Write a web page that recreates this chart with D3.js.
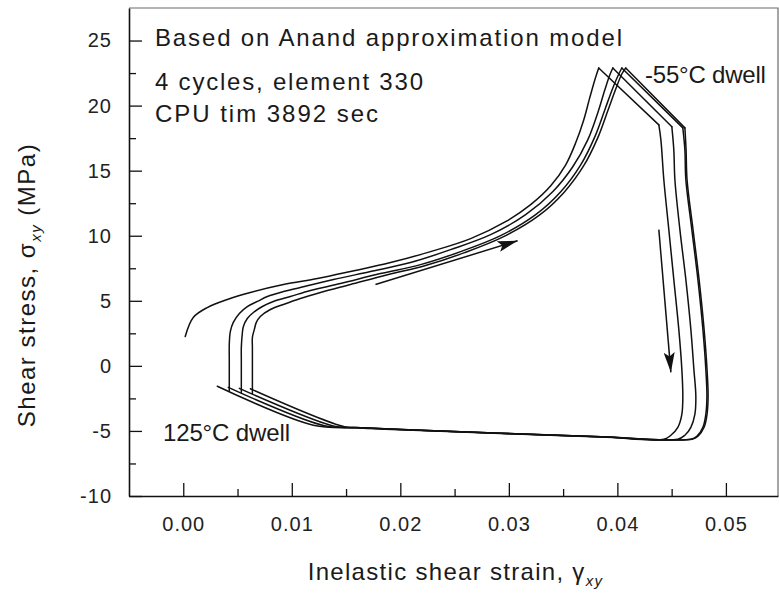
<!DOCTYPE html>
<html>
<head>
<meta charset="utf-8">
<script src="https://cdn.jsdelivr.net/npm/d3@7"></script>
<style>
  html, body { margin: 0; padding: 0; background: #fff; }
  svg { display: block; font-family: "Liberation Sans", Arial, Helvetica, sans-serif; }
</style>
</head>
<body>
<svg id="chart" width="779" height="599"></svg>
<script>
// Shear stress / inelastic shear strain hysteresis, 4 thermal cycles (element 330)
// Each cycle: loading branch -> -55°C dwell -> unloading -> 125°C dwell. [strain, stress MPa]
const cycle1 = [
  [0.00018, 2.26], [0.00092, 3.72], [0.00221, 4.48], [0.00406, 5.10], [0.00618, 5.64],
  [0.00923, 6.25], [0.01236, 6.71], [0.01541, 7.25], [0.01910, 7.94], [0.02279, 8.78],
  [0.02648, 9.78], [0.02970, 11.08], [0.03201, 12.39], [0.03386, 13.84], [0.03524, 15.45],
  [0.03616, 17.14], [0.03690, 18.90], [0.03745, 20.59], [0.03792, 21.97], [0.03828, 22.89],
  [0.04382, 18.52], [0.04401, 17.37], [0.04428, 14.30], [0.04474, 10.47], [0.04520, 6.63],
  [0.04566, 2.80], [0.04594, -0.27], [0.04603, -2.34], [0.04594, -3.72], [0.04557, -4.72],
  [0.04493, -5.33], [0.04428, -5.64], [0.03847, -5.45], [0.02924, -5.18], [0.02186, -4.95],
  [0.01633, -4.75], [0.01199, -4.56], [0.00314, -1.57]
];
const cycle2 = [
  [0.00424, -1.95], [0.00424, 0.50], [0.00424, 1.65], [0.00434, 2.65], [0.00461, 3.34],
  [0.00517, 4.03], [0.00590, 4.56], [0.00683, 4.95], [0.00775, 5.33], [0.00923, 5.71],
  [0.01079, 6.02], [0.01384, 6.63], [0.01725, 7.25], [0.02094, 7.94], [0.02463, 8.93],
  [0.02832, 10.08], [0.03155, 11.62], [0.03404, 13.38], [0.03589, 15.30], [0.03727, 17.37],
  [0.03819, 19.44], [0.03884, 21.20], [0.03930, 22.35], [0.03958, 22.89],
  [0.04502, 18.37], [0.04520, 16.60], [0.04530, 14.30], [0.04576, 10.47], [0.04631, 6.63],
  [0.04677, 2.80], [0.04705, -0.27], [0.04723, -2.34], [0.04714, -3.72], [0.04677, -4.72],
  [0.04622, -5.33], [0.04557, -5.64], [0.03847, -5.45], [0.02924, -5.18], [0.02186, -4.95],
  [0.01633, -4.75], [0.01301, -4.60], [0.00415, -1.65]
];
const cycle3 = [
  [0.00535, -2.05], [0.00535, 0.50], [0.00535, 1.42], [0.00544, 2.49], [0.00554, 3.03],
  [0.00590, 3.64], [0.00646, 4.10], [0.00729, 4.56], [0.00830, 4.95], [0.00987, 5.33],
  [0.01172, 5.79], [0.01448, 6.33], [0.01817, 7.09], [0.02186, 7.78], [0.02555, 8.78],
  [0.02924, 10.01], [0.03247, 11.62], [0.03478, 13.38], [0.03662, 15.45], [0.03792, 17.60],
  [0.03884, 19.67], [0.03958, 21.36], [0.04013, 22.43], [0.04041, 22.89],
  [0.04603, 18.29], [0.04622, 16.60], [0.04631, 14.30], [0.04686, 10.47], [0.04742, 6.63],
  [0.04788, 2.80], [0.04815, -0.27], [0.04825, -2.34], [0.04815, -3.72], [0.04788, -4.72],
  [0.04732, -5.41], [0.04677, -5.64], [0.03847, -5.45], [0.02924, -5.18], [0.02186, -4.95],
  [0.01633, -4.75], [0.01393, -4.64], [0.00517, -1.73]
];
const cycle4 = [
  [0.00637, -2.12], [0.00637, 0.50], [0.00637, 1.42], [0.00637, 2.19], [0.00655, 2.80],
  [0.00673, 3.34], [0.00710, 3.80], [0.00803, 4.33], [0.00923, 4.72], [0.01079, 5.18],
  [0.01264, 5.64], [0.01541, 6.25], [0.01891, 7.02], [0.02232, 7.71], [0.02592, 8.70],
  [0.02952, 9.93], [0.03275, 11.54], [0.03506, 13.31], [0.03690, 15.38], [0.03819, 17.52],
  [0.03911, 19.59], [0.03985, 21.28], [0.04041, 22.43], [0.04077, 22.89],
  [0.04622, 18.29], [0.04633, 16.60], [0.04642, 14.30], [0.04697, 10.47], [0.04753, 6.63],
  [0.04799, 2.80], [0.04826, -0.27], [0.04836, -2.34], [0.04826, -3.72], [0.04799, -4.72],
  [0.04743, -5.41], [0.04688, -5.64], [0.03847, -5.47], [0.02924, -5.20], [0.02186, -4.97],
  [0.01633, -4.77], [0.01485, -4.68], [0.00618, -1.76]
];
const cycles = [cycle1, cycle2, cycle3, cycle4];

// Direction arrows along the loop [from, to]
const loadArrow = [[0.01771, 6.25], [0.03081, 9.62]];
const unloadArrow = [[0.04382, 10.47], [0.04493, -0.50]];

const xTicks = [0.00, 0.01, 0.02, 0.03, 0.04, 0.05];
const xMinorTicks = [0.005, 0.015, 0.025, 0.035, 0.045];
const yTicks = [-10, -5, 0, 5, 10, 15, 20, 25];
const yMinorTicks = [-7.5, -2.5, 2.5, 7.5, 12.5, 17.5, 22.5];

const noteLines = ["Based on Anand approximation model", "4 cycles, element 330", "CPU tim 3892 sec"];
const coldDwell = { text: "-55°C dwell", at: [0.04254, 21.7] };
const hotDwell = { text: "125°C dwell", at: [-0.00187, -5.8] };

// ---- layout ----
const svg = d3.select("#chart");
const plotL = 129, plotR = 778, plotT = 8, plotB = 496;

const x = d3.scaleLinear().domain([-0.005, 0.0548]).range([plotL, plotR]);
const y = d3.scaleLinear().domain([-10, 27.5]).range([plotB, plotT]);

// frame: light top/right edges
svg.append("path")
  .attr("d", `M${plotL},${plotT}H${plotR}V${plotB}`)
  .attr("fill", "none").attr("stroke", "#6a6a6a").attr("stroke-width", 1.2);

// minor ticks
svg.append("g").attr("transform", `translate(${plotL},0)`)
  .call(d3.axisLeft(y).tickValues(yMinorTicks).tickSize(-7).tickFormat(""))
  .call(g => g.select(".domain").remove());
svg.append("g").attr("transform", `translate(0,${plotB})`)
  .call(d3.axisBottom(x).tickValues(xMinorTicks).tickSize(-7).tickFormat(""))
  .call(g => g.select(".domain").remove());

// major axes (plain hyphen for negative labels)
const yAxis = svg.append("g").attr("transform", `translate(${plotL},0)`)
  .call(d3.axisLeft(y).tickValues(yTicks).tickSizeInner(-13).tickSizeOuter(0).tickPadding(17).tickFormat(d => String(d)));
const xAxis = svg.append("g").attr("transform", `translate(0,${plotB})`)
  .call(d3.axisBottom(x).tickValues(xTicks).tickSizeInner(-13).tickSizeOuter(0).tickPadding(21).tickFormat(d => d.toFixed(2)));

svg.selectAll("g line").attr("stroke", "#111").attr("stroke-width", 1.3);
[yAxis, xAxis].forEach(g => {
  g.selectAll("text").attr("font-size", 20).attr("fill", "#222").attr("letter-spacing", 1)
    .attr("font-family", "'Liberation Sans', Arial, sans-serif");
  g.select(".domain").attr("stroke", "#111").attr("stroke-width", 1.6);
});

// loops: smooth each branch, keep sharp corners at the dwell transitions
function branches(pts) {
  const px = pts.map(d => [x(d[0]), y(d[1])]);
  const out = [];
  let cur = [pts[0]];
  for (let i = 1; i < pts.length; i++) {
    cur.push(pts[i]);
    if (i < pts.length - 1) {
      const a1 = Math.atan2(px[i][1] - px[i - 1][1], px[i][0] - px[i - 1][0]);
      const a2 = Math.atan2(px[i + 1][1] - px[i][1], px[i + 1][0] - px[i][0]);
      let turn = Math.abs(a2 - a1) * 180 / Math.PI;
      if (turn > 180) turn = 360 - turn;
      if (turn > 35) { out.push(cur); cur = [pts[i]]; }
    }
  }
  out.push(cur);
  return out;
}
const line = d3.line().x(d => x(d[0])).y(d => y(d[1])).curve(d3.curveCatmullRom.alpha(0.5));
svg.append("g").selectAll("path").data(cycles.flatMap(branches)).join("path")
  .attr("d", line)
  .attr("fill", "none").attr("stroke", "#111").attr("stroke-width", 1.5)
  .attr("stroke-linejoin", "miter").attr("stroke-linecap", "round");

// arrows
svg.append("defs").append("marker")
  .attr("id", "head").attr("markerUnits", "userSpaceOnUse")
  .attr("markerWidth", 20).attr("markerHeight", 11)
  .attr("refX", 20).attr("refY", 5.5).attr("orient", "auto")
  .append("path").attr("d", "M0,0L20,5.5L0,11L4,5.5Z").attr("fill", "#111");
svg.append("g").selectAll("line").data([loadArrow, unloadArrow]).join("line")
  .attr("x1", d => x(d[0][0])).attr("y1", d => y(d[0][1]))
  .attr("x2", d => x(d[1][0])).attr("y2", d => y(d[1][1]))
  .attr("stroke", "#111").attr("stroke-width", 1.5)
  .attr("marker-end", "url(#head)");

// notes
const noteWidths = [467, 268, 223];
const noteBase = [46, 90, 122];
svg.append("g").selectAll("text").data(noteLines).join("text")
  .attr("x", 155).attr("y", (d, i) => noteBase[i])
  .attr("font-size", 24).attr("fill", "#1a1a1a")
  .attr("textLength", (d, i) => noteWidths[i]).attr("lengthAdjust", "spacing")
  .text(d => d);

[[coldDwell, 121], [hotDwell, 127]].forEach(([lab, w]) => {
  svg.append("text")
    .attr("x", x(lab.at[0])).attr("y", y(lab.at[1]))
    .attr("font-size", 24).attr("fill", "#1a1a1a")
    .attr("textLength", w).attr("lengthAdjust", "spacing")
    .text(lab.text);
});

// axis titles
const xt = svg.append("text")
  .attr("x", (plotL + plotR) / 2 + 2).attr("y", 580)
  .attr("text-anchor", "middle").attr("font-size", 24).attr("fill", "#1a1a1a")
  .attr("letter-spacing", 1.3);
xt.append("tspan").text("Inelastic shear strain, γ");
xt.append("tspan").attr("font-size", 15).attr("font-style", "italic").attr("dy", 6).text("xy");

const yt = svg.append("text")
  .attr("transform", "translate(35,285) rotate(-90)")
  .attr("text-anchor", "middle").attr("font-size", 24).attr("fill", "#1a1a1a")
  .attr("letter-spacing", 1.5);
yt.append("tspan").text("Shear stress, σ");
yt.append("tspan").attr("font-size", 15).attr("font-style", "italic").attr("dy", 6).text("xy");
yt.append("tspan").attr("dy", -6).text(" (MPa)");
</script>
</body>
</html>
